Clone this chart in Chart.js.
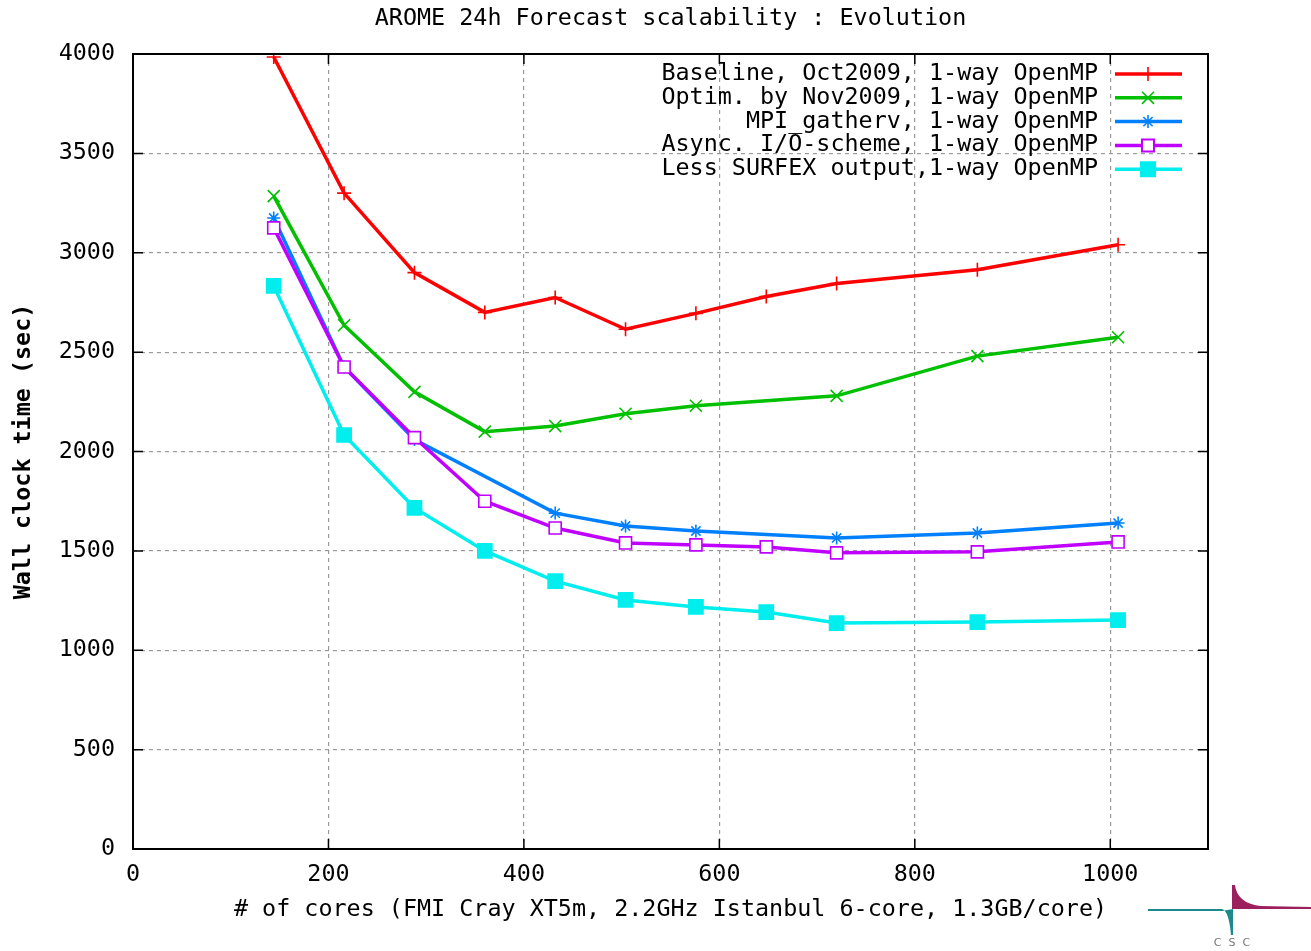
<!DOCTYPE html>
<html>
<head>
<meta charset="utf-8">
<script src="https://cdn.jsdelivr.net/npm/chart.js@4.4.1/dist/chart.umd.min.js"></script>
<style>
  html, body { margin: 0; padding: 0; background: #fff; }
  #wrap { width: 1311px; height: 951px; }
</style>
</head>
<body>
<div id="wrap"><canvas id="myChart" width="1311" height="951"></canvas></div>
<script>
// AROME scalability chart

const chartTitle = 'AROME 24h Forecast scalability : Evolution';
const xTitle = '# of cores (FMI Cray XT5m, 2.2GHz Istanbul 6-core, 1.3GB/core)';
const yTitle = 'Wall clock time (sec)';

// number of cores (x values)
const cores = [144, 216, 288, 360, 432, 504, 576, 648, 720, 864, 1008];

// wall clock time per series (null = not measured)
const baseline = [3985, 3300, 2900, 2700, 2775, 2615, 2695, 2780, 2845, 2915, 3040];
const optimNov = [3285, 2635, 2300, 2100, 2128, 2190, 2230, null, 2280, 2480, 2575];
const gatherv  = [3175, 2425, 2060, null, 1690, 1625, 1600, null, 1565, 1590, 1640];
const asyncIO  = [3125, 2425, 2070, 1750, 1615, 1540, 1530, 1520, 1490, 1495, 1545];
const surfex   = [2833, 2083, 1716, 1500, 1348, 1253, 1218, 1192, 1137, 1142, 1152];

const seriesLabels = [
    'Baseline, Oct2009, 1-way OpenMP',
    'Optim. by Nov2009, 1-way OpenMP',
    'MPI_gatherv, 1-way OpenMP',
    'Async. I/O-scheme, 1-way OpenMP',
    'Less SURFEX output,1-way OpenMP'
];

const xTicks = [0, 200, 400, 600, 800, 1000];
const yTicks = [0, 500, 1000, 1500, 2000, 2500, 3000, 3500, 4000];

const FONT = 'DejaVu Sans Mono';

function toPoints(vals) {
    const pts = [];
    cores.forEach((c, i) => { if (vals[i] !== null) pts.push({ x: c, y: vals[i] }); });
    return pts;
}

function makeSet(label, vals, color, style, radius, fill, order) {
    return {
        label: label,
        data: toPoints(vals),
        borderColor: color,
        backgroundColor: color,
        borderWidth: 3.5,
        pointStyle: style,
        pointRadius: radius,
        pointBorderColor: color,
        pointBackgroundColor: fill,
        pointBorderWidth: 1.6,
        tension: 0,
        order: order
    };
}

const datasets = [
    makeSet(seriesLabels[0], baseline, '#ff0000', 'cross', 7, '#ff0000', 5),
    makeSet(seriesLabels[1], optimNov, '#00c000', 'crossRot', 8.5, '#00c000', 4),
    makeSet(seriesLabels[2], gatherv, '#0080ff', 'star', 6.5, '#0080ff', 3),
    makeSet(seriesLabels[3], asyncIO, '#c000ff', 'rect', 8.5, '#ffffff', 2),
    makeSet(seriesLabels[4], surfex, '#00eeee', 'rect', 10, '#00eeee', 1)
];

function drawMarker(ctx, style, r, x, y, color, fill) {
    ctx.save();
    ctx.strokeStyle = color;
    ctx.fillStyle = fill;
    ctx.lineWidth = 1.6;
    ctx.beginPath();
    if (style === 'cross') {
        ctx.moveTo(x - r, y); ctx.lineTo(x + r, y);
        ctx.moveTo(x, y - r); ctx.lineTo(x, y + r);
        ctx.stroke();
    } else if (style === 'crossRot') {
        const d = r * Math.SQRT1_2;
        ctx.moveTo(x - d, y - d); ctx.lineTo(x + d, y + d);
        ctx.moveTo(x - d, y + d); ctx.lineTo(x + d, y - d);
        ctx.stroke();
    } else if (style === 'star') {
        const d = r * Math.SQRT1_2;
        ctx.moveTo(x - r, y); ctx.lineTo(x + r, y);
        ctx.moveTo(x, y - r); ctx.lineTo(x, y + r);
        ctx.moveTo(x - d, y - d); ctx.lineTo(x + d, y + d);
        ctx.moveTo(x - d, y + d); ctx.lineTo(x + d, y - d);
        ctx.stroke();
    } else if (style === 'rect') {
        const s = r * Math.SQRT1_2;
        ctx.rect(x - s, y - s, 2 * s, 2 * s);
        ctx.fill();
        ctx.lineWidth = 2;
        ctx.stroke();
    }
    ctx.restore();
}

// gnuplot-like frame, inward ticks, title, legend and logo
const framePlugin = {
    id: 'framePlugin',
    afterDraw(chart) {
        const ctx = chart.ctx;
        const a = chart.chartArea;
        const xs = chart.scales.x, ys = chart.scales.y;
        ctx.save();
        ctx.strokeStyle = '#000';
        ctx.lineWidth = 2;
        ctx.strokeRect(a.left, a.top, a.right - a.left, a.bottom - a.top);
        ctx.lineWidth = 1.5;
        ctx.beginPath();
        xTicks.forEach(v => {
            const px = xs.getPixelForValue(v);
            ctx.moveTo(px, a.bottom); ctx.lineTo(px, a.bottom - 10);
            ctx.moveTo(px, a.top); ctx.lineTo(px, a.top + 10);
        });
        yTicks.forEach(v => {
            const py = ys.getPixelForValue(v);
            ctx.moveTo(a.left, py); ctx.lineTo(a.left + 10, py);
            ctx.moveTo(a.right, py); ctx.lineTo(a.right - 10, py);
        });
        ctx.stroke();

        // title centred over the plot
        ctx.fillStyle = '#000';
        ctx.font = '23.4px "' + FONT + '"';
        ctx.textAlign = 'center';
        ctx.textBaseline = 'middle';
        ctx.fillText(chartTitle, (a.left + a.right) / 2, 19);

        // legend (text right aligned, sample on the right)
        ctx.textAlign = 'right';
        chart.data.datasets.forEach((ds, i) => {
            const y = a.top + 20 + i * 23.8;
            ctx.fillStyle = '#000';
            ctx.fillText(ds.label, 1098, y);
            ctx.strokeStyle = ds.borderColor;
            ctx.lineWidth = 3.5;
            ctx.beginPath();
            ctx.moveTo(1115, y); ctx.lineTo(1182, y);
            ctx.stroke();
            drawMarker(ctx, ds.pointStyle, ds.pointRadius, 1148, y, ds.borderColor, ds.pointBackgroundColor);
        });

        // CSC logo
        ctx.fillStyle = '#1a8a8c';
        ctx.beginPath();
        ctx.moveTo(1148, 909);
        ctx.lineTo(1222, 909);
        ctx.quadraticCurveTo(1229, 911, 1231, 935);
        ctx.lineTo(1233, 935);
        ctx.lineTo(1233, 909);
        ctx.lineTo(1222, 911);
        ctx.lineTo(1148, 911);
        ctx.closePath();
        ctx.fill();
        ctx.fillStyle = '#9c1f5e';
        ctx.beginPath();
        ctx.moveTo(1232, 885);
        ctx.lineTo(1235, 885);
        ctx.quadraticCurveTo(1237, 903, 1260, 906);
        ctx.lineTo(1311, 907);
        ctx.lineTo(1311, 909);
        ctx.lineTo(1232, 909);
        ctx.closePath();
        ctx.fill();
        ctx.fillStyle = '#777';
        ctx.font = '11px "DejaVu Sans"';
        ctx.textAlign = 'center';
        ctx.fillText('C  S  C', 1232, 943);
        ctx.restore();
    }
};

const ctx = document.getElementById('myChart').getContext('2d');

const myChart = new Chart(ctx, {
    type: 'line',
    data: { datasets: datasets },
    plugins: [framePlugin],
    options: {
        responsive: false,
        animation: false,
        layout: { padding: { left: 0, right: 103, top: 54, bottom: 0 } },
        plugins: {
            legend: { display: false },
            tooltip: { enabled: false },
            title: { display: false }
        },
        scales: {
            x: {
                type: 'linear',
                min: 0,
                max: 1100,
                afterBuildTicks(scale) {
                    scale.ticks = xTicks.map(v => ({ value: v }));
                },
                afterFit(scale) { scale.height = 102; },
                ticks: {
                    color: '#000',
                    font: { family: FONT, size: 23.4 },
                    padding: 12,
                    maxRotation: 0,
                    callback: v => String(v)
                },
                grid: {
                    color: '#999999',
                    lineWidth: 1.2,
                    drawTicks: false
                },
                border: { display: false, dash: [4, 4] },
                title: {
                    display: true,
                    text: xTitle,
                    color: '#000',
                    font: { family: FONT, size: 23.4 },
                    padding: { top: 0, bottom: 27 }
                }
            },
            y: {
                type: 'linear',
                min: 0,
                max: 4000,
                afterBuildTicks(scale) {
                    scale.ticks = yTicks.map(v => ({ value: v }));
                },
                afterFit(scale) { scale.width = 133; },
                ticks: {
                    color: '#000',
                    font: { family: FONT, size: 23.4 },
                    padding: 18,
                    callback: v => String(v)
                },
                grid: {
                    color: '#999999',
                    lineWidth: 1.2,
                    drawTicks: false
                },
                border: { display: false, dash: [4, 4] },
                title: {
                    display: true,
                    text: yTitle,
                    color: '#000',
                    font: { family: FONT, size: 23.4, weight: 'bold' },
                    padding: { top: 10, bottom: 0 }
                }
            }
        }
    }
});
</script>
</body>
</html>
